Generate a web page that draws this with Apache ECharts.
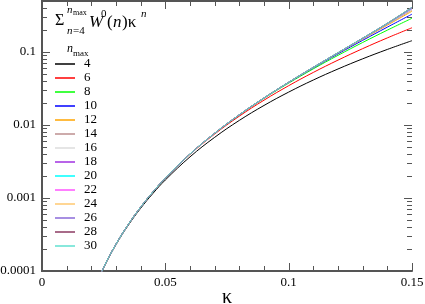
<!DOCTYPE html>
<html><head><meta charset="utf-8">
<script src="https://cdn.jsdelivr.net/npm/echarts@6/dist/echarts.min.js"></script>
<style>html,body{margin:0;padding:0;background:#fff}#c{width:425px;height:304px}</style>
</head><body><div id="c"></div>
<script>
const kappa = [0.02,0.025,0.03,0.035,0.04,0.045,0.05,0.06,0.07,0.08,0.09,0.1,0.11,0.12,0.13,0.14,0.15];
const nmaxNames = ['4','6','8','10','12','14','16','18','20','22','24','26','28','30'];
const s4  = [4.52e-5,1.104e-4,2.288e-4,4.24e-4,7.24e-4,1.158e-3,1.766e-3,3.661e-3,6.78e-3,0.01157,0.01853,0.02824,0.04136,0.05857,0.08068,0.1085,0.143];
const s6  = [4.56e-5,1.119e-4,2.334e-4,4.356e-4,7.50e-4,1.211e-3,1.865e-3,3.956e-3,7.524e-3,0.01323,0.02189,0.03456,0.05256,0.07744,0.1112,0.1561,0.215];
const s8  = [4.56e-5,1.12e-4,2.336e-4,4.363e-4,7.52e-4,1.216e-3,1.876e-3,4.005e-3,7.693e-3,0.01372,0.02315,0.03749,0.05883,0.09003,0.1351,0.1993,0.29];
const s10 = [4.56e-5,1.12e-4,2.336e-4,4.363e-4,7.52e-4,1.216e-3,1.877e-3,4.009e-3,7.713e-3,0.01379,0.02339,0.03818,0.06063,0.09433,0.1446,0.2193,0.33];
const s12 = [4.56e-5,1.12e-4,2.336e-4,4.363e-4,7.52e-4,1.216e-3,1.877e-3,4.010e-3,7.716e-3,0.01381,0.02346,0.03843,0.0614,0.09653,0.1504,0.2333,0.362];
const s14 = [4.56e-5,1.12e-4,2.336e-4,4.363e-4,7.52e-4,1.216e-3,1.877e-3,4.010e-3,7.716e-3,0.01381,0.02347,0.03848,0.0616,0.09719,0.1524,0.239,0.377];
const s16 = [4.56e-5,1.12e-4,2.336e-4,4.363e-4,7.52e-4,1.216e-3,1.877e-3,4.010e-3,7.717e-3,0.01381,0.02347,0.0385,0.06167,0.09747,0.1534,0.2423,0.387];
const s18 = [4.56e-5,1.12e-4,2.336e-4,4.363e-4,7.52e-4,1.216e-3,1.877e-3,4.010e-3,7.717e-3,0.01381,0.02348,0.0385,0.0617,0.0976,0.1539,0.2444,0.394];
const s20 = [4.56e-5,1.12e-4,2.336e-4,4.363e-4,7.52e-4,1.216e-3,1.877e-3,4.010e-3,7.717e-3,0.01381,0.02348,0.0385,0.06171,0.09766,0.1542,0.2456,0.399];
const s22 = [4.56e-5,1.12e-4,2.336e-4,4.363e-4,7.52e-4,1.216e-3,1.877e-3,4.010e-3,7.717e-3,0.01381,0.02348,0.0385,0.06171,0.09769,0.1544,0.2465,0.403];
const s24 = [4.56e-5,1.12e-4,2.336e-4,4.363e-4,7.52e-4,1.216e-3,1.877e-3,4.010e-3,7.717e-3,0.01381,0.02348,0.0385,0.06172,0.0977,0.1545,0.2471,0.406];
const s26 = [4.56e-5,1.12e-4,2.336e-4,4.363e-4,7.52e-4,1.216e-3,1.877e-3,4.010e-3,7.717e-3,0.01381,0.02348,0.0385,0.06172,0.09771,0.1545,0.2474,0.408];
const s28 = [4.56e-5,1.12e-4,2.336e-4,4.363e-4,7.52e-4,1.216e-3,1.877e-3,4.010e-3,7.717e-3,0.01381,0.02348,0.0385,0.06172,0.09771,0.1546,0.2476,0.4095];
const s30 = [4.56e-5,1.12e-4,2.336e-4,4.363e-4,7.52e-4,1.216e-3,1.877e-3,4.010e-3,7.717e-3,0.01381,0.02348,0.0385,0.06172,0.09771,0.1546,0.2478,0.4107];
const yTickValues = [0.0001,0.001,0.01,0.1];
const yTickLabels = ['0.0001','0.001','0.01','0.1'];
const yMinorTicks = [2e-4,3e-4,4e-4,5e-4,6e-4,7e-4,8e-4,9e-4,2e-3,3e-3,4e-3,5e-3,6e-3,7e-3,8e-3,9e-3,0.02,0.03,0.04,0.05,0.06,0.07,0.08,0.09,0.2,0.3,0.4];
const xTickValues = [0,0.05,0.1,0.15];
const xTickLabels = ['0','0.05','0.1','0.15'];
const xMinorTicks = [0.01,0.02,0.03,0.04,0.06,0.07,0.08,0.09,0.11,0.12,0.13,0.14];

const allSeries = [s4,s6,s8,s10,s12,s14,s16,s18,s20,s22,s24,s26,s28,s30];
const colors = ['#000000','#ff0000','#00ff00','#0000ff','#ffa500','#bc8f8f','#dcdcdc','#a030e0','#00ffff','#ff55ff','#ffc870','#8a6ad8','#8b3a62','#60e0d0'];
const FONT = '"Liberation Serif", "Times New Roman", serif';
const AX = '#555';

const chart = echarts.init(document.getElementById('c'), null, {renderer:'canvas'});
const series = allSeries.map((arr,i)=>({
  name: nmaxNames[i], type:'line', xAxisIndex:0, yAxisIndex:0,
  data: kappa.map((k,j)=>[k,arr[j]]),
  showSymbol:false, smooth:0.4, clip:true,
  lineStyle:{color:colors[i], width:1},
  itemStyle:{color:colors[i]}
}));
// tick marks drawn through the axes' scales
const xTickData = xTickValues.map(v=>[v,8]).concat(xMinorTicks.map(v=>[v,5]));
const yTickData = yTickValues.map(v=>[v,8]).concat(yMinorTicks.map(v=>[v,5]));
series.push({type:'custom', silent:true, xAxisIndex:0, yAxisIndex:0, clip:false,
  data: xTickData.map(d=>[d[0],0.001,d[1]]),
  encode:{x:0,y:1},
  renderItem:function(params, api){
    const cs = params.coordSys;
    const px = Math.round(api.coord([api.value(0), api.value(1)])[0]) + 0.5;
    const len = api.value(2);
    const yb = cs.y + cs.height, yt = cs.y;
    return {type:'group', children:[
      {type:'line', shape:{x1:px,y1:yb,x2:px,y2:yb-len}, style:{stroke:AX,lineWidth:1}},
      {type:'line', shape:{x1:px,y1:yt,x2:px,y2:yt+len}, style:{stroke:AX,lineWidth:1}}
    ]};
  }});
series.push({type:'custom', silent:true, xAxisIndex:0, yAxisIndex:0, clip:false,
  data: yTickData.map(d=>[0.05,d[0],d[1]]),
  encode:{x:0,y:1},
  renderItem:function(params, api){
    const cs = params.coordSys;
    const py = Math.round(api.coord([api.value(0), api.value(1)])[1]) + 0.5;
    const len = api.value(2);
    const xl = cs.x, xr = cs.x + cs.width;
    return {type:'group', children:[
      {type:'line', shape:{x1:xl,y1:py,x2:xl+len,y2:py}, style:{stroke:AX,lineWidth:1}},
      {type:'line', shape:{x1:xr,y1:py,x2:xr-len,y2:py}, style:{stroke:AX,lineWidth:1}}
    ]};
  }});

function yFmt(v){
  for (let i=0;i<yTickValues.length;i++) if (Math.abs(v/yTickValues[i]-1)<1e-6) return yTickLabels[i];
  return '';
}
function xFmt(v){
  for (let i=0;i<xTickValues.length;i++) if (Math.abs(v-xTickValues[i])<1e-9) return xTickLabels[i];
  return '';
}
const baseX = {type:'value', min:0, max:0.15, interval:0.05,
  axisLine:{lineStyle:{color:AX,width:2}}, splitLine:{show:false},
  axisTick:{show:false}, minorTick:{show:false}};
const baseY = {type:'log', min:0.0001, max:0.5, logBase:10,
  axisLine:{lineStyle:{color:AX,width:2}}, splitLine:{show:false},
  axisTick:{show:false}, minorTick:{show:false}};
chart.setOption({
  animation:false,
  backgroundColor:'#fff',
  grid:{left:42,right:13,top:1,bottom:33,containLabel:false,outerBoundsMode:'none'},
  xAxis:[
    Object.assign({}, baseX, {position:'bottom',
      name:'κ', nameLocation:'middle', nameGap:17, nameMoveOverlap:false,
      nameTextStyle:{fontFamily:FONT,fontSize:20,color:'#000',verticalAlign:'top',lineHeight:20},
      axisLabel:{formatter:xFmt,fontFamily:FONT,fontSize:13,color:'#000',margin:5}}),
    Object.assign({}, baseX, {position:'top', axisLabel:{show:false}})
  ],
  yAxis:[
    Object.assign({}, baseY, {position:'left',
      axisLabel:{formatter:yFmt,fontFamily:FONT,fontSize:13,color:'#000',margin:6}}),
    Object.assign({}, baseY, {position:'right', axisLabel:{show:false}})
  ],
  legend:{show:true, orient:'vertical', left:55, top:57, padding:0, itemWidth:20, itemHeight:1.5, itemGap:0,
    icon:'rect', selectedMode:false,
    textStyle:{fontFamily:FONT,fontSize:13,color:'#000',lineHeight:14,padding:[0,0,0,4]},
    data:nmaxNames},
  graphic:[
    {type:'text',left:55,top:13,style:{text:'Σ',font:'16px "Liberation Serif"',fill:'#000'}},
    {type:'text',left:67,top:5,style:{text:'n',font:'italic 11px "Liberation Serif"',fill:'#000'}},
    {type:'text',left:73,top:9,style:{text:'max',font:'8px "Liberation Serif"',fill:'#000'}},
    {type:'text',left:67,top:26,style:{text:'n',font:'italic 11px "Liberation Serif"',fill:'#000'}},
    {type:'text',left:73,top:26,style:{text:'=4',font:'11px "Liberation Serif"',fill:'#000'}},
    {type:'text',left:89,top:14,style:{text:'W',font:'italic 17px "Liberation Serif"',fill:'#000'}},
    {type:'text',left:101,top:9,style:{text:'0',font:'11px "Liberation Serif"',fill:'#000'}},
    {type:'text',left:107,top:14,style:{text:'(',font:'17px "Liberation Serif"',fill:'#000'}},
    {type:'text',left:113,top:14,style:{text:'n',font:'italic 17px "Liberation Serif"',fill:'#000'}},
    {type:'text',left:122,top:14,style:{text:')κ',font:'17px "Liberation Serif"',fill:'#000'}},
    {type:'text',left:141,top:9,style:{text:'n',font:'italic 11px "Liberation Serif"',fill:'#000'}},
    {type:'text',left:67,top:43,style:{text:'n',font:'italic 12px "Liberation Serif"',fill:'#000'}},
    {type:'text',left:73,top:49,style:{text:'max',font:'9px "Liberation Serif"',fill:'#000'}}
  ],
  series: series
});
</script></body></html>
